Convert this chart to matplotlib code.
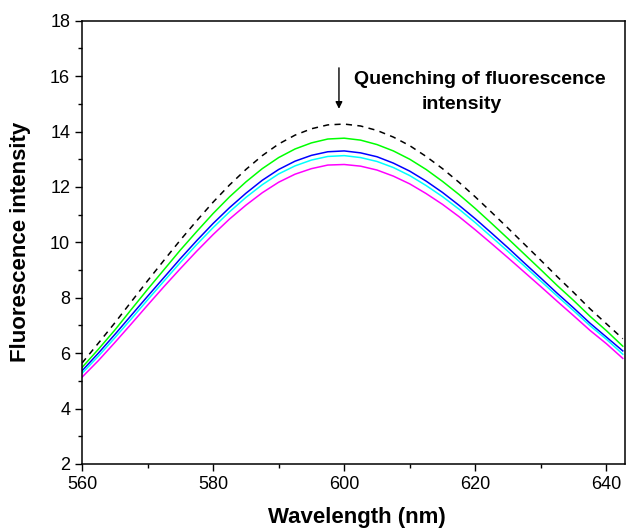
import matplotlib

matplotlib.use("Agg")
import matplotlib.pyplot as plt
from matplotlib.ticker import MultipleLocator

plt.rcParams["font.family"] = ["Liberation Sans", "DejaVu Sans"]

# wavelength grid (nm)
wavelength = [560, 562.5, 565, 567.5, 570, 572.5, 575, 577.5, 580, 582.5,
              585, 587.5, 590, 592.5, 595, 597.5, 600, 602.5, 605, 607.5,
              610, 612.5, 615, 617.5, 620, 622.5, 625, 627.5, 630, 632.5,
              635, 637.5, 640, 642.5]

# emission spectra
free_dye = [5.64, 6.36, 7.09, 7.85, 8.61, 9.35, 10.08, 10.78, 11.45, 12.07,
            12.63, 13.13, 13.55, 13.87, 14.10, 14.24, 14.27, 14.20, 14.04, 13.80,
            13.49, 13.10, 12.66, 12.17, 11.64, 11.08, 10.51, 9.93, 9.35, 8.76,
            8.19, 7.60, 7.06, 6.52]
green = [5.48, 6.14, 6.83, 7.57, 8.30, 9.01, 9.72, 10.39, 11.04, 11.64,
         12.18, 12.66, 13.06, 13.37, 13.59, 13.73, 13.76, 13.69, 13.53, 13.30,
         13.00, 12.63, 12.20, 11.73, 11.22, 10.68, 10.13, 9.57, 9.01, 8.44,
         7.90, 7.33, 6.81, 6.25]
blue = [5.36, 6.00, 6.67, 7.36, 8.05, 8.73, 9.41, 10.06, 10.68, 11.25,
        11.77, 12.24, 12.63, 12.93, 13.14, 13.27, 13.30, 13.23, 13.09, 12.86,
        12.57, 12.21, 11.80, 11.34, 10.85, 10.33, 9.80, 9.25, 8.71, 8.16,
        7.63, 7.08, 6.58, 6.08]
cyan = [5.27, 5.89, 6.55, 7.23, 7.92, 8.60, 9.27, 9.92, 10.53, 11.10,
        11.62, 12.08, 12.47, 12.76, 12.97, 13.10, 13.13, 13.06, 12.92, 12.70,
        12.41, 12.05, 11.65, 11.20, 10.71, 10.19, 9.67, 9.14, 8.60, 8.06,
        7.53, 6.99, 6.50, 5.96]
magenta = [5.13, 5.73, 6.38, 7.05, 7.73, 8.40, 9.05, 9.68, 10.28, 10.84,
           11.34, 11.79, 12.17, 12.46, 12.66, 12.79, 12.81, 12.75, 12.61, 12.39,
           12.11, 11.76, 11.37, 10.93, 10.45, 9.95, 9.44, 8.92, 8.40, 7.87,
           7.35, 6.82, 6.34, 5.81]

fig = plt.figure(figsize=(6.26, 5.32), dpi=100)
ax = fig.add_axes([0.131, 0.128, 0.867, 0.833])

ax.plot(wavelength, free_dye, color="black", lw=1.1, ls=(0, (4, 3.5)))
ax.plot(wavelength, green, color="#00ff00", lw=1.1)
ax.plot(wavelength, blue, color="#0000ff", lw=1.1)
ax.plot(wavelength, cyan, color="#00ffff", lw=1.1)
ax.plot(wavelength, magenta, color="#ff00ff", lw=1.1)

ax.set_xlim(560, 642.8)
ax.set_ylim(2, 18)
ax.xaxis.set_major_locator(MultipleLocator(20))
ax.xaxis.set_minor_locator(MultipleLocator(10))
ax.yaxis.set_major_locator(MultipleLocator(2))
ax.yaxis.set_minor_locator(MultipleLocator(1))
ax.tick_params(which="both", direction="out", top=False, right=False,
               labelsize=13, width=1)
ax.tick_params(which="major", length=5)
ax.tick_params(which="minor", length=3)
for s in ax.spines.values():
    s.set_linewidth(1.1)

ax.set_xlabel("Wavelength (nm)", fontsize=16, fontweight="bold")
ax.set_ylabel("Fluorescence intensity", fontsize=16, fontweight="bold")
ax.xaxis.set_label_coords(0.507, -0.097)
ax.yaxis.set_label_coords(-0.094, 0.5)

ax.annotate("", xy=(599.2, 14.72), xytext=(599.2, 16.4),
            arrowprops=dict(arrowstyle="-|>", color="black", lw=1,
                            mutation_scale=10))
ax.text(620.7, 15.72, "Quenching of fluorescence", ha="center", va="baseline",
        fontsize=14, fontweight="bold")
ax.text(617.9, 14.82, "intensity", ha="center", va="baseline",
        fontsize=14, fontweight="bold")

fig.savefig("out.png", dpi=100)
